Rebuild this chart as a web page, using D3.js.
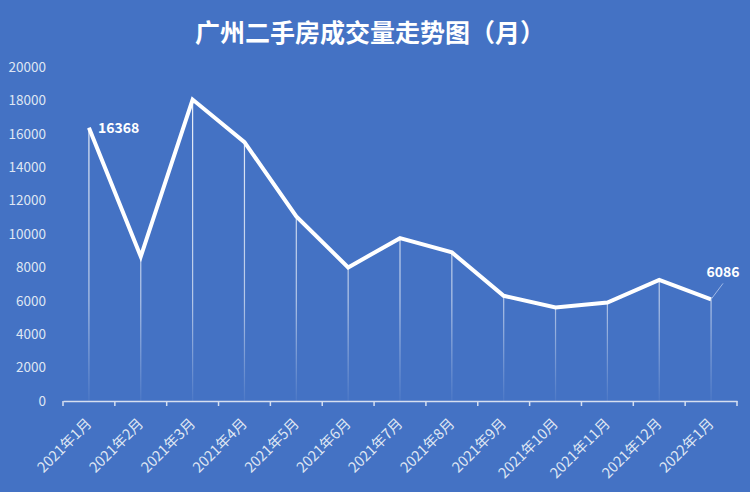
<!DOCTYPE html>
<html><head><meta charset="utf-8">
<script src="https://cdn.jsdelivr.net/npm/d3@7/dist/d3.min.js"></script>
<style>
html,body{margin:0;padding:0;background:#4472C4;}
svg{display:block;font-family:"Microsoft YaHei","Noto Sans CJK SC","Noto Sans",sans-serif;}
</style></head>
<body><svg id="c" width="750" height="492"></svg>
<script>
const title = "广州二手房成交量走势图（月）";
const categories = ["2021年1月","2021年2月","2021年3月","2021年4月","2021年5月","2021年6月","2021年7月","2021年8月","2021年9月","2021年10月","2021年11月","2021年12月","2022年1月"];
const values = [16368, 8650, 18050, 15500, 11050, 8000, 9750, 8900, 6300, 5600, 5900, 7250, 6086];
const yTicks = [0,2000,4000,6000,8000,10000,12000,14000,16000,18000,20000];

(function(){
const svg = d3.select("#c");
const W = 750, H = 492;
const mLeft = 63, mRight = 737, mTop = 67, mBottom = 401;
const FONT = "'Microsoft YaHei','Noto Sans CJK SC','Noto Sans',sans-serif";
svg.append("rect").attr("width",W).attr("height",H).attr("fill","#4472C4");

const x = d3.scaleBand().domain(categories).range([mLeft,mRight]);
const y = d3.scaleLinear().domain([0,20000]).range([mBottom,mTop]);

svg.append("text").attr("x",370).attr("y",42).attr("text-anchor","middle")
  .attr("fill","#fff").attr("font-size",25).attr("font-weight","bold").text(title);

const defs = svg.append("defs");
const g = defs.append("linearGradient").attr("id","drop").attr("gradientUnits","userSpaceOnUse")
  .attr("x1",0).attr("x2",0).attr("y1",mTop).attr("y2",mBottom);
g.append("stop").attr("offset","0%").attr("stop-color","#fff").attr("stop-opacity",0.95);
g.append("stop").attr("offset","70%").attr("stop-color","#fff").attr("stop-opacity",0.6);
g.append("stop").attr("offset","100%").attr("stop-color","#fff").attr("stop-opacity",0.05);

const ya = svg.append("g").attr("transform",`translate(${mLeft},0)`)
  .call(d3.axisLeft(y).tickValues(yTicks).tickSize(0).tickPadding(17).tickFormat(d3.format("d")));
ya.select(".domain").remove();
ya.selectAll("text").attr("fill","#dfe6f3").attr("font-size",13.5).attr("font-family",FONT);

const xa = svg.append("g").attr("transform",`translate(0,${mBottom})`)
  .call(d3.axisBottom(x).tickSizeInner(0).tickSizeOuter(0));
xa.select(".domain").attr("stroke","#d6dff0").attr("stroke-width",1.5);
const edges = categories.map(c=>x(c)).concat([x(categories[categories.length-1])+x.bandwidth()]);
svg.append("g").selectAll("line").data(edges).join("line")
  .attr("x1",d=>d).attr("x2",d=>d).attr("y1",mBottom).attr("y2",mBottom+5)
  .attr("stroke","#d6dff0").attr("stroke-width",1.5);
xa.selectAll(".tick text").attr("fill","#dfe6f3").attr("font-size",14.5).attr("font-family",FONT)
  .attr("text-anchor","end").attr("dy","0.35em")
  .attr("transform",`translate(0,20) rotate(-45)`).attr("x",0).attr("y",0);

const cx = d => x(d) + x.bandwidth()/2;

svg.append("g").selectAll("line").data(categories).join("line")
  .attr("x1",d=>cx(d)).attr("x2",d=>cx(d))
  .attr("y1",(d,i)=>y(values[i])).attr("y2",mBottom)
  .attr("stroke","url(#drop)").attr("stroke-width",1.2);

const line = d3.line().x((d,i)=>cx(categories[i])).y(d=>y(d));
svg.append("path").datum(values).attr("d",line).attr("fill","none")
  .attr("stroke","#fff").attr("stroke-width",4).attr("stroke-linejoin","miter");

const first = 0, last = values.length-1;
svg.append("text").attr("x",cx(categories[first])+9).attr("y",y(values[first])+5)
  .attr("fill","#fff").attr("font-size",14).attr("font-weight","bold").text(values[first]);
const lx = cx(categories[last]), ly = y(values[last]);
svg.append("line").attr("x1",lx).attr("y1",ly).attr("x2",lx+12).attr("y2",ly-16)
  .attr("stroke","#9fb8e6").attr("stroke-width",1);
svg.append("text").attr("x",lx+12).attr("y",ly-22).attr("text-anchor","middle")
  .attr("fill","#fff").attr("font-size",14).attr("font-weight","bold").text(values[last]);
})();
</script></body></html>
